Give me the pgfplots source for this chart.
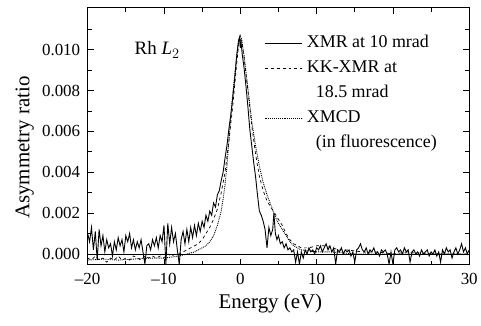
\documentclass[border=0pt]{standalone}
\usepackage{fontspec}
\setmainfont{Liberation Serif}
\usepackage{pgfplots}
\usetikzlibrary{calc}
\pgfplotsset{compat=1.18}
\begin{document}
\begin{tikzpicture}
\begin{axis}[
  scale only axis, width=383pt, height=258pt,
  xmin=-20, xmax=30, ymin=-0.00054, ymax=0.01205,
  axis line style={line width=1pt},
  xtick={-20,-10,0,10,20,30},
  xticklabels={–20,–10,0,10,20,30},
  minor xtick={-15,-5,5,15,25},
  ytick={0,0.002,0.004,0.006,0.008,0.010},
  yticklabels={0.000,0.002,0.004,0.006,0.008,0.010},
  minor ytick={0.001,0.003,0.005,0.007,0.009,0.011},
  scaled y ticks=false,
  tick align=inside, tick pos=both,
  major tick length=6pt, minor tick length=4pt,
  every tick/.style={black, line width=0.8pt},
  tick label style={font=\fontsize{17}{17}\selectfont},
  xticklabel style={yshift=-5pt},
  yticklabel style={xshift=-4pt},
  xlabel={Energy (eV)}, ylabel={Asymmetry ratio},
  every axis x label/.style={at={(axis description cs:0.479,-0.151)}, anchor=center, font=\fontsize{21}{21}\selectfont},
  every axis y label/.style={at={(axis description cs:-0.165,0.457)}, rotate=90, anchor=center, font=\fontsize{21}{21}\selectfont},
  legend style={at={(axis description cs:0.462,0.90)}, anchor=north west, draw=none, fill=none,
    font=\fontsize{18}{18}\selectfont, inner sep=0pt, row sep=6pt,
    nodes={inner xsep=4pt, inner ysep=1pt, text height=13pt, text depth=4pt}},
  legend cell align=left,
]
\addplot[black, line width=0.4pt, forget plot] coordinates {(-20,0) (30,0)};
% XMCD dotted
\addplot[black, densely dotted, line width=0.9pt, forget plot] coordinates {
(-20,-0.0003) (-18,-0.00025) (-16,-0.0003) (-14,-0.00025) (-12,-0.0002) (-10,-0.0002) (-8,-0.0001) (-7,0.0000) (-6,0.0001) (-5.5,0.0002) (-5,0.0003) (-4.5,0.0004) (-4,0.0006) (-3.5,0.0009) (-3,0.0014) (-2.5,0.0021) (-2.25,0.0027) (-2,0.0034) (-1.75,0.0043) (-1.5,0.0055) (-1.25,0.0067) (-1,0.0078) (-0.75,0.0087) (-0.5,0.0096) (-0.2,0.0105) (0,0.0107) (0.2,0.0105) (0.5,0.0097) (1,0.0081) (1.5,0.0065) (2,0.0053) (2.5,0.0043) (3,0.0035) (3.5,0.0029) (4,0.0024) (4.5,0.0019) (5,0.0015) (5.5,0.0012) (6,0.0009) (6.5,0.0006) (7,0.0004) (7.5,0.0003) (8,0.0002) (10,0.0001) (12,0.0001) (15,0.0000) (20,0.0000) (25,0.0000) (30,0.0000)};
% KK-XMR dashed
\addplot[black, dashed, line width=0.7pt, forget plot] coordinates {
(-20,-0.0002) (-19.5,-0.0003) (-19,-0.0001) (-18.5,-0.0003) (-18,-0.0002) (-17.5,-0.0004) (-17,-0.0002) (-16.5,-0.0003) (-16,-0.0001) (-15.5,-0.0003) (-15,-0.0002) (-14.5,-0.0003) (-14,-0.0001) (-13.5,-0.0002) (-13,-0.0003) (-12.5,-0.0001) (-12,-0.0002) (-11.5,-0.0001) (-11,-0.0002) (-10.5,-0.0001) (-10,-0.0002) (-9.5,0.0000) (-9,-0.0001) (-8.5,0.0000) (-8,0.0000) (-7.5,0.0001) (-7,0.0002) (-6.5,0.0003) (-6,0.0004) (-5.5,0.0005) (-5,0.0007) (-4.5,0.0010) (-4,0.0013) (-3.5,0.0017) (-3,0.0022) (-2.5,0.0030) (-2,0.0040) (-1.5,0.0055) (-1,0.0072) (-0.5,0.0092) (-0.2,0.0103) (0,0.0105) (0.2,0.0104) (0.5,0.0096) (1,0.0080) (1.5,0.0063) (2,0.0049) (2.5,0.0038) (3,0.0031) (3.5,0.0026) (4,0.0023) (4.5,0.0020) (5,0.0017) (5.5,0.0014) (6,0.0010) (6.5,0.0007) (7,0.0005) (7.5,0.0004) (8,0.0003) (9,0.0003) (10,0.0004) (11,0.0004) (12,0.0003) (13,0.0002) (14,0.0002) (16,0.0001) (18,0.0001) (20,0.0000) (22,0.0001) (25,0.0000) (28,0.0000) (30,0.0000)};
% XMR solid
\addplot[black, line width=0.9pt, forget plot] coordinates {
(-20.0,0.0010) (-19.75,0.0006) (-19.5,0.0013) (-19.25,0.0002) (-19.0,0.0011) (-18.75,-0.0003) (-18.5,0.0012) (-18.25,0.0004) (-18.0,0.0009) (-17.75,0.0001) (-17.5,0.0007) (-17.25,0.0003) (-17.0,0.0005) (-16.75,-0.0001) (-16.5,0.0006) (-16.25,0.0002) (-16.0,0.0008) (-15.75,0.0004) (-15.5,0.0007) (-15.25,0.0001) (-15.0,0.0009) (-14.75,0.0006) (-14.5,0.0010) (-14.25,0.0003) (-14.0,0.0007) (-13.75,0.0002) (-13.5,0.0006) (-13.25,0.0003) (-13.0,0.0007) (-12.75,0.0001) (-12.5,-0.0005) (-12.25,0.0004) (-12.0,0.0005) (-11.75,0.0002) (-11.5,0.0007) (-11.25,0.0004) (-11.0,0.0008) (-10.75,0.0003) (-10.5,0.0009) (-10.25,0.0006) (-10.0,0.0014) (-9.75,-0.0005) (-9.5,0.0015) (-9.25,0.0005) (-9.0,0.0013) (-8.75,0.0006) (-8.5,0.0010) (-8.25,0.0002) (-8.0,-0.0005) (-7.75,0.0007) (-7.5,0.0011) (-7.25,0.0005) (-7.0,0.0012) (-6.75,0.0006) (-6.5,0.0013) (-6.25,0.0008) (-6.0,0.0014) (-5.75,0.0009) (-5.5,0.0015) (-5.25,0.0011) (-5.0,0.0016) (-4.75,0.0013) (-4.5,0.0019) (-4.25,0.0016) (-4.0,0.0021) (-3.75,0.0019) (-3.5,0.0025) (-3.25,0.0023) (-3.0,0.0029) (-2.75,0.0031) (-2.5,0.0036) (-2.25,0.0040) (-2.0,0.0047) (-1.75,0.0053) (-1.5,0.0061) (-1.25,0.0068) (-1.0,0.0076) (-0.75,0.0085) (-0.5,0.0096) (-0.25,0.0104) (-0.1,0.0106) (0.0,0.0101) (0.1,0.0104) (0.25,0.0098) (0.5,0.0091) (0.75,0.0082) (1.0,0.0072) (1.25,0.0061) (1.5,0.0053) (1.75,0.0045) (2.0,0.0038) (2.25,0.0029) (2.5,0.0021) (2.75,0.0019) (3.0,0.0016) (3.25,0.0012) (3.5,0.0003) (3.75,0.0013) (4.0,0.0009) (4.25,0.0012) (4.4,0.0020) (4.6,0.0010) (4.8,0.0007) (5.0,0.0009) (5.25,0.0005) (5.5,0.0006) (5.75,0.0003) (6.0,0.0005) (6.25,0.0002) (6.5,0.0003) (6.75,0.0001) (7.0,0.0002) (7.25,-0.0004) (7.5,0.0001) (7.75,-0.0005) (8.0,0.0001) (8.25,-0.0002) (8.5,0.0002) (8.75,0.0000) (9.0,0.0003) (9.25,0.0001) (9.5,0.0002) (9.75,0.0000) (10.0,0.0003) (10.25,0.0002) (10.5,0.0004) (10.75,0.0001) (11.0,0.0003) (11.25,0.0005) (11.5,0.0002) (11.75,0.0004) (12.0,0.0001) (12.25,0.0003) (12.5,-0.0005) (12.75,0.0002) (13.0,0.0001) (13.25,0.0003) (13.5,0.0000) (13.75,0.0002) (14.0,0.0001) (14.25,0.0002) (14.5,-0.0001) (14.75,0.0001) (15.0,-0.0004) (15.25,0.0002) (15.5,0.0003) (15.75,0.0005) (16.0,0.0002) (16.25,0.0001) (16.5,0.0003) (16.75,0.0000) (17.0,0.0002) (17.25,0.0001) (17.5,0.0003) (17.75,0.0000) (18.0,0.0001) (18.25,-0.0001) (18.5,0.0002) (18.75,0.0001) (19.0,0.0002) (19.25,0.0000) (19.5,-0.0005) (19.75,0.0001) (20.0,-0.0005) (20.25,0.0002) (20.5,0.0003) (20.75,0.0001) (21.0,0.0002) (21.25,0.0000) (21.5,0.0003) (21.75,0.0001) (22.0,0.0002) (22.25,-0.0004) (22.5,0.0001) (22.75,0.0002) (23.0,0.0000) (23.25,0.0001) (23.5,-0.0001) (23.75,0.0002) (24.0,0.0000) (24.25,0.0001) (24.5,0.0002) (24.75,-0.0001) (25.0,0.0001) (25.25,0.0000) (25.5,0.0002) (25.75,-0.0001) (26.0,0.0001) (26.25,-0.0004) (26.5,0.0002) (26.75,0.0000) (27.0,0.0003) (27.25,0.0001) (27.5,0.0002) (27.75,-0.0002) (28.0,0.0001) (28.25,0.0003) (28.5,0.0000) (28.75,0.0002) (29.0,0.0005) (29.25,0.0001) (29.5,0.0003) (29.75,0.0000) (30.0,0.0002)};
\addlegendimage{legend image code/.code={\draw[black, line width=0.9pt] (0pt,0pt) -- (38pt,0pt);}}
\addlegendentry{XMR at 10 mrad}
\addlegendimage{legend image code/.code={\draw[black, dashed, line width=0.7pt] (0pt,0pt) -- (38pt,0pt);}}
\addlegendentry{KK-XMR at}
\addlegendimage{empty legend}
\addlegendentry{\hspace{9pt}18.5 mrad}
\addlegendimage{legend image code/.code={\draw[black, densely dotted, line width=0.9pt] (0pt,0pt) -- (38pt,0pt);}}
\addlegendentry{XMCD}
\addlegendimage{empty legend}
\addlegendentry{\hspace{9pt}(in fluorescence)}
\node[anchor=west, font=\fontsize{19}{19}\selectfont] at (axis cs:-14.3,0.0100) {Rh \textit{L}$_2$};
\end{axis}
\path ($(current axis.south west)+(-88pt,-61pt)$) rectangle ($(current axis.north east)+(10pt,8pt)$);
\end{tikzpicture}
\end{document}
